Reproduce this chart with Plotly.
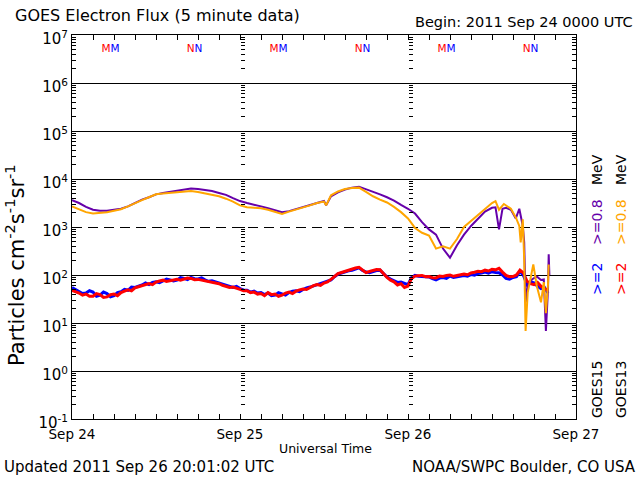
import plotly.graph_objects as go

# ---------------- data (hours since 2011 Sep 24 00:00 UTC) ----------------
hours_half = [i * 0.5 for i in range(137)]  # 0 .. 68 h, every 30 min

g15_2mev = [55, 50, 46, 41, 42, 47, 44, 36, 38, 44, 41, 35, 37, 43, 45, 50, 48, 56, 55, 58,
            62, 68, 63, 70, 72, 69, 76, 82, 79, 75, 78, 88, 85, 80, 89, 84, 83, 87, 79, 74,
            76, 72, 68, 64, 62, 57, 55, 58, 52, 49, 48, 44, 46, 42, 43, 39, 42, 37, 38, 43,
            41, 38, 43, 46, 47, 45, 50, 54, 56, 59, 62, 66, 69, 74, 79, 92, 105, 110, 117, 122,
            126, 134, 141, 125, 115, 112, 120, 124, 126, 108, 91, 82, 76, 70, 71, 66, 63, 88, 98, 94,
            93, 90, 91, 84, 79, 86, 89, 85, 95, 89, 91, 96, 98, 95, 102, 99, 107, 110, 115, 109,
            117, 113, 112, 100, 85, 82, 89, 92, 120, 98, 63, 72, 69, 58, 52, 55, 42]
g13_2mev = [48, 45, 42, 38, 40, 36, 36, 41, 39, 34, 35, 39, 40, 37, 43, 46, 49, 47, 54, 57,
            60, 64, 66, 63, 71, 75, 78, 73, 76, 80, 81, 78, 83, 86, 85, 80, 81, 78, 76, 73,
            72, 68, 66, 61, 59, 55, 56, 52, 50, 47, 47, 43, 44, 40, 41, 37, 43, 39, 40, 36,
            38, 42, 44, 41, 46, 49, 51, 50, 55, 60, 63, 61, 68, 72, 81, 95, 107, 113, 120, 128,
            132, 140, 145, 128, 112, 118, 123, 130, 129, 105, 89, 78, 72, 62, 66, 55, 59, 85, 95, 97,
            98, 92, 93, 88, 87, 95, 93, 98, 100, 94, 98, 103, 105, 101, 110, 114, 120, 117, 126, 121,
            132, 128, 138, 115, 98, 92, 93, 100, 126, 110, 74, 66, 63, 70, 58, 52, 48]

hours_g15_08 = [0, 1, 2, 3, 4, 5, 6, 7, 8, 9, 10, 11, 12, 13, 14, 15, 16, 17, 18, 19,
                20, 21, 22, 23, 24, 25, 26, 27, 28, 29, 30, 31, 32, 33, 34, 35, 36, 36.3, 37, 38,
                39, 40, 41, 42, 43, 44, 45, 46, 47, 48, 49, 50, 51, 52, 53, 54, 55, 56, 57, 58,
                59, 60, 60.5, 61, 61.5, 62, 62.7, 63.4, 63.9, 64.4, 64.6, 64.8, 65.1, 65.7, 66.4,
                67.0, 67.4, 67.7, 68.0, 68.1, 68.2]
g15_08mev = [3630, 3160, 2630, 2290, 2190, 2190, 2290, 2400, 2690, 3160, 3720, 4170, 4790, 5130,
             5370, 5620, 6030, 6310, 6170, 5890, 5620, 5130, 4680, 3980, 3470, 3160, 2950, 2690,
             2450, 2240, 2040, 2140, 2340, 2570, 2820, 3160, 3470, 2820, 4370, 5250, 6030, 6610,
             6920, 6170, 5370, 4790, 4170, 3550, 2880, 2400, 1910, 1260, 891, 692, 355, 229,
             417, 692, 1050, 1510, 2090, 2510, 2570, 891, 2400, 2510, 2290, 1510, 2400, 1050,
             479, 27, 59, 81, 93, 79, 81, 6.8, 50, 269, 100]

hours_g13_08 = [0, 1, 2, 3, 4, 5, 6, 7, 8, 9, 10, 11, 12, 13, 14, 15, 16, 17, 18, 19,
                20, 21, 22, 23, 24, 25, 26, 27, 28, 29, 30, 31, 32, 33, 34, 35, 36, 36.3, 37, 38,
                39, 40, 41, 42, 43, 44, 45, 46, 47, 48, 49, 50, 51, 52, 53, 54, 55, 56, 57, 58,
                59, 60, 60.5, 61, 61.7, 62.7, 63.4, 63.9, 64.1, 64.4, 64.6, 64.8, 65.1, 65.7, 65.9,
                66.4, 67.0, 67.4, 67.7, 68.0, 68.1]
g13_08mev = [2690, 2340, 2040, 1910, 1950, 2040, 2190, 2340, 2690, 3160, 3630, 4170, 4790, 5010,
             5130, 5250, 5500, 5620, 5370, 5010, 4790, 4370, 3890, 3390, 2820, 2570, 2510, 2450,
             2290, 2040, 1860, 2090, 2290, 2510, 2820, 3160, 3390, 2820, 4570, 5500, 6170, 6460,
             6610, 5370, 4370, 3720, 3240, 2630, 2040, 1510, 955, 759, 661, 355, 398, 355,
             562, 1000, 1320, 1820, 2400, 3160, 3470, 2290, 3020, 2400, 1580, 1050, 479, 1450,
             209, 6.8, 43, 112, 166, 59, 27, 71, 16, 63, 166]

# local midnight (M) / noon (N) markers: GOES13 (red) and GOES15 (blue) local times
g13_midnight = [5, 29, 53]
g15_midnight = [6, 30, 54]
g13_noon = [17, 41, 65]
g15_noon = [18, 42, 66]
marker_level = 5.0e6

day_ticks = [0, 24, 48, 72]
day_labels = ["Sep 24", "Sep 25", "Sep 26", "Sep 27"]
decades = [0.1, 1, 10, 100, 1000, 1e4, 1e5, 1e6, 1e7]
decade_labels = ["10<sup>-1</sup>", "10<sup>0</sup>", "10<sup>1</sup>", "10<sup>2</sup>",
                 "10<sup>3</sup>", "10<sup>4</sup>", "10<sup>5</sup>", "10<sup>6</sup>",
                 "10<sup>7</sup>"]
solid_grid = [1, 10, 100, 1e4, 1e5, 1e6]
dashed_grid = [1000]

# ---------------- styles ----------------
BLUE = "rgb(0,0,255)"
RED = "rgb(255,0,0)"
PURPLE = "rgb(102,0,170)"
ORANGE = "rgb(255,165,0)"
FONT = "DejaVu Sans"

W, H = 640, 480
L, R, T, B = 72, 64, 35, 61
PW, PH = W - L - R, H - T - B


def px(xp):
    return (xp - L) / PW


def py(yp):
    return (H - B - yp) / PH


fig = go.Figure()

fig.add_trace(go.Scatter(x=hours_half, y=g15_2mev, mode="lines",
                         line=dict(color=BLUE, width=3), hoverinfo="skip"))
fig.add_trace(go.Scatter(x=hours_half, y=g13_2mev, mode="lines",
                         line=dict(color=RED, width=3), hoverinfo="skip"))
fig.add_trace(go.Scatter(x=hours_g15_08, y=g15_08mev, mode="lines",
                         line=dict(color=PURPLE, width=2), hoverinfo="skip"))
fig.add_trace(go.Scatter(x=hours_g13_08, y=g13_08mev, mode="lines",
                         line=dict(color=ORANGE, width=2), hoverinfo="skip"))

# paired letters: red (GOES13) immediately followed by blue (GOES15)
for t13, t15, letter in [(g13_midnight, g15_midnight, "M"), (g13_noon, g15_noon, "N")]:
    mids = [(a + b) / 2 for a, b in zip(t13, t15)]
    txt = f"<span style='color:{RED}'>{letter}</span><span style='color:{BLUE}'>{letter}</span>"
    fig.add_trace(go.Scatter(x=mids, y=[marker_level] * len(mids), mode="text",
                             text=[txt] * len(mids),
                             textfont=dict(size=10.5, family=FONT, color=RED),
                             textposition="middle center", hoverinfo="skip"))

# invisible traces so that the helper axes (grid + day-line tick columns) are drawn
for ya in ["y2", "y3"]:
    fig.add_trace(go.Scatter(x=[None], y=[None], yaxis=ya, mode="lines", hoverinfo="skip"))

yaxis_common = dict(type="log", range=[-1, 7])
tickaxis = dict(ticks="inside", ticklen=4, tickcolor="black", tickwidth=1,
                minor=dict(ticks="inside", ticklen=4, tickcolor="black", dtick="D1", showgrid=False))

fig.update_layout(
    width=W, height=H, margin=dict(l=L, r=R, t=T, b=B, autoexpand=False),
    paper_bgcolor="white", plot_bgcolor="white", showlegend=False,
    font=dict(family=FONT, color="black"),
    xaxis=dict(range=[0, 72], tickvals=day_ticks, ticktext=day_labels, showgrid=False,
               zeroline=False, showline=True, linecolor="black", linewidth=1, mirror="allticks",
               ticks="inside", ticklen=5, tickcolor="black", ticklabelstandoff=3,
               minor=dict(ticks="inside", ticklen=5, tickcolor="black", dtick=3, showgrid=False),
               tickfont=dict(size=13.5, family=FONT)),
    yaxis=dict(**yaxis_common, tickvals=decades, ticktext=decade_labels, showgrid=False,
               zeroline=False, showline=True, linecolor="black", linewidth=1, mirror="allticks",
               ticklabelshift=4, tickfont=dict(size=15, family=FONT), **tickaxis),
    yaxis2=dict(**yaxis_common, overlaying="y", anchor="free", position=1 / 3, side="left",
                showticklabels=False, zeroline=False, showline=False,
                tickvals=solid_grid, showgrid=True, gridcolor="black", gridwidth=1, **tickaxis),
    yaxis3=dict(**yaxis_common, overlaying="y", anchor="free", position=2 / 3, side="left",
                showticklabels=False, zeroline=False, showline=False,
                tickvals=dashed_grid, showgrid=True, gridcolor="black", gridwidth=1,
                griddash="10px,6px", **tickaxis),
)

ann = []
ann.append(dict(text="GOES Electron Flux (5 minute data)", x=px(13), y=py(16), xanchor="left",
                yanchor="middle", font=dict(size=16)))
ann.append(dict(text="Begin: 2011 Sep 24 0000 UTC", x=px(413), y=py(22), xanchor="left",
                yanchor="middle", font=dict(size=14.5)))
ann.append(dict(text="Universal Time", x=px(325), y=py(448), xanchor="center",
                yanchor="middle", font=dict(size=12.5)))
ann.append(dict(text="Updated 2011 Sep 26 20:01:02 UTC", x=px(2), y=py(467), xanchor="left",
                yanchor="middle", font=dict(size=15)))
ann.append(dict(text="NOAA/SWPC Boulder, CO USA", x=px(638), y=py(467), xanchor="right",
                yanchor="middle", font=dict(size=15)))
ann.append(dict(text="Particles cm<sup>-2</sup>s<sup>-1</sup>sr<sup>-1</sup>", x=px(15),
                y=py(265), xanchor="center", yanchor="middle", textangle=-90,
                font=dict(size=21)))
# right-hand legend, two rotated columns
for xc, sat, c2, c08 in [(597, "GOES15", BLUE, PURPLE), (621, "GOES13", RED, ORANGE)]:
    for txt, yc, col in [(sat, 390, "black"), ("&gt;=2", 279, c2), ("&gt;=0.8", 222, c08),
                         ("MeV", 170, "black")]:
        ann.append(dict(text=txt, x=px(xc), y=py(yc), xanchor="center", yanchor="middle",
                        textangle=-90, font=dict(size=14, color=col)))
for a in ann:
    a.update(xref="paper", yref="paper", showarrow=False)
fig.update_layout(annotations=ann)

fig.write_html("out.html", config={"displayModeBar": False},
               post_script="document.body.style.margin='0';")
